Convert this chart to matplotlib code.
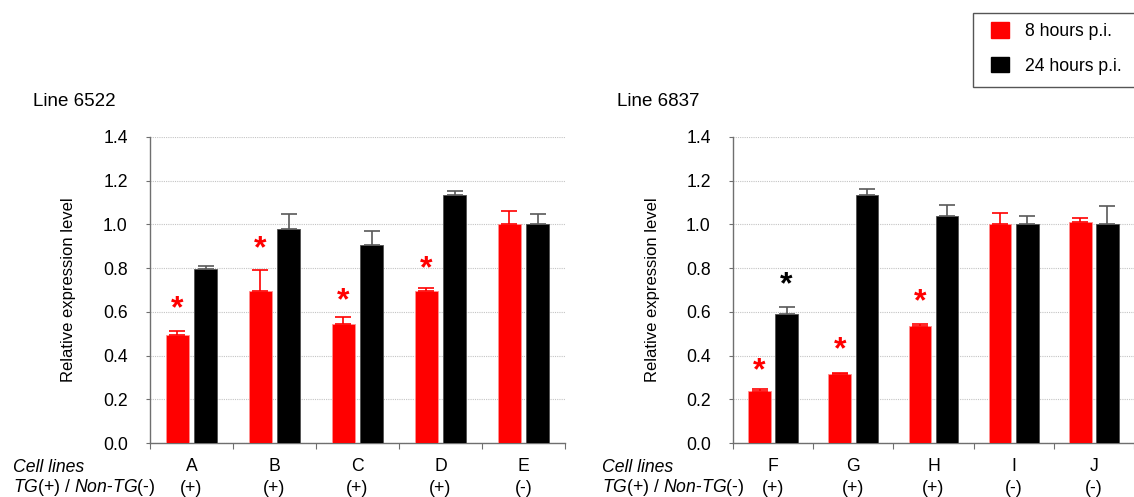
import matplotlib
matplotlib.use("Agg")
import matplotlib.pyplot as plt
import matplotlib.transforms as mtrans
from matplotlib.patches import Rectangle, Patch
import numpy as np

plt.rcParams['font.family'] = ['Liberation Sans', 'DejaVu Sans']
plt.rcParams['mathtext.fontset'] = 'custom'
plt.rcParams['mathtext.it'] = 'Liberation Sans:italic'
plt.rcParams['mathtext.rm'] = 'Liberation Sans'

# ---- data ----
titles = ["Line 6522", "Line 6837"]
cats_left = ["A", "B", "C", "D", "E"]
cats_right = ["F", "G", "H", "I", "J"]
tg_left = ["(+)", "(+)", "(+)", "(+)", "(-)"]
tg_right = ["(+)", "(+)", "(+)", "(-)", "(-)"]

h8_left = [0.494, 0.697, 0.545, 0.694, 1.00]
h8_left_err = [0.018, 0.093, 0.030, 0.014, 0.060]
h24_left = [0.798, 0.978, 0.907, 1.135, 1.00]
h24_left_err = [0.012, 0.069, 0.062, 0.020, 0.047]

h8_right = [0.236, 0.315, 0.535, 1.00, 1.009]
h8_right_err = [0.011, 0.005, 0.010, 0.054, 0.022]
h24_right = [0.590, 1.134, 1.039, 1.00, 1.00]
h24_right_err = [0.033, 0.026, 0.049, 0.037, 0.083]

# significance stars: y-position of the star above each bar (None = no star)
stars_left = {"8h": [0.64, 0.916, 0.674, 0.823, None], "24h": [None] * 5}
stars_right = {"8h": [0.355, 0.452, 0.671, None, None], "24h": [0.748, None, None, None, None]}

legend_labels = ["8 hours p.i.", "24 hours p.i."]
yticks = [0.0, 0.2, 0.4, 0.6, 0.8, 1.0, 1.2, 1.4]

RED = "#ff0000"
BLACK = "#000000"
AXC = "#6f6f6f"
W, H = 1134, 497
GROUP_PX = 83.0
FS = 12.7

fig = plt.figure(figsize=(W / 100, H / 100), dpi=100)
star_shift = mtrans.ScaledTranslation(0, -6 / 100, fig.dpi_scale_trans)


def panel(left_px, right_px, cats, tg, h8, h8e, h24, h24e, stars, title, title_x_px):
    ax = fig.add_axes([left_px / W, (H - 443) / H, (right_px - left_px) / W, 306 / H])
    x = np.arange(len(cats))
    off, bw = 0.169, 0.283
    ax.bar(x - off, h8, bw, color=RED, edgecolor="#ff9090", linewidth=0.6, zorder=3)
    ax.bar(x + off, h24, bw, color=BLACK, edgecolor="#505050", linewidth=0.6, zorder=3)
    ax.errorbar(x - off, h8, yerr=[np.zeros(len(h8)), h8e], fmt="none",
                ecolor=RED, elinewidth=1.2, capsize=5.5, capthick=1.2, zorder=4)
    ax.errorbar(x + off, h24, yerr=[np.zeros(len(h24)), h24e], fmt="none",
                ecolor="#595959", elinewidth=1.2, capsize=5.5, capthick=1.2, zorder=4)
    for key, sign, col in (("8h", -1, RED), ("24h", 1, BLACK)):
        for i, s in enumerate(stars[key]):
            if s is not None:
                ax.text(i + sign * off, s, "*", color=col, fontsize=23, fontweight="bold",
                        ha="center", va="center", zorder=5,
                        transform=ax.transData + star_shift)

    span = (right_px - left_px) / GROUP_PX
    ax.set_xlim(-0.5, -0.5 + span)
    ax.set_ylim(0, 1.4)
    ax.set_yticks(yticks)
    ax.set_yticklabels([f"{v:.1f}" for v in yticks], fontsize=FS)
    ax.yaxis.grid(True, color="#c4c4c4", linestyle=(0, (1, 1)), linewidth=0.8, zorder=0)
    ax.set_axisbelow(True)
    for sp in ["top", "right"]:
        ax.spines[sp].set_visible(False)
    for sp in ["left", "bottom"]:
        ax.spines[sp].set_color(AXC)
        ax.spines[sp].set_linewidth(1.0)
    # group boundary ticks (major) and category labels (minor)
    ax.set_xticks(np.arange(len(cats) + 1) - 0.5)
    ax.set_xticklabels([])
    ax.set_xticks(x, minor=True)
    ax.set_xticklabels([f"{c}\n{t}" for c, t in zip(cats, tg)], minor=True,
                       fontsize=FS, linespacing=1.33)
    ax.tick_params(axis="x", which="major", direction="out", length=4, color=AXC)
    ax.tick_params(axis="x", which="minor", length=0, pad=11)
    ax.tick_params(axis="y", direction="out", length=3, color=AXC, pad=13)
    ax.set_ylabel("Relative expression level", fontsize=12)
    ax.yaxis.set_label_coords(0, 0.5, transform=ax.transAxes +
                              mtrans.ScaledTranslation(-73.5 / 100, 0, fig.dpi_scale_trans))
    fig.text(title_x_px / W, (H - 101) / H, title, fontsize=13.5, ha="left", va="center")
    return ax


axL = panel(150, 565, cats_left, tg_left, h8_left, h8_left_err, h24_left, h24_left_err,
            stars_left, titles[0], 33)
axR = panel(733, 1134, cats_right, tg_right, h8_right, h8_right_err, h24_right, h24_right_err,
            stars_right, titles[1], 617)

for xpx in (13, 602):
    fig.text(xpx / W, (H - 467) / H, "Cell lines", fontsize=FS, style="italic",
             ha="left", va="center")
    fig.text(xpx / W, (H - 488) / H, r"$\it{TG}$(+) / $\it{Non}$-$\it{TG}$(-)", fontsize=FS,
             ha="left", va="center")

# legend box (cut by the right edge of the image, as in the reference)
fig.patches.append(Rectangle((973 / W, (H - 87) / H), 200 / W, 74 / H,
                             transform=fig.transFigure, facecolor="white",
                             edgecolor="#555555", linewidth=1.0))
handles = [Patch(facecolor=RED, edgecolor=RED), Patch(facecolor=BLACK, edgecolor=BLACK)]
fig.legend(handles, legend_labels, loc="upper left", bbox_to_anchor=(991 / W, (H - 22) / H),
           frameon=False, fontsize=FS, handlelength=1.0, handleheight=1.0,
           handletextpad=0.9, labelspacing=0.95, borderpad=0.0, borderaxespad=0.0)

fig.savefig("out.png", dpi=100)
